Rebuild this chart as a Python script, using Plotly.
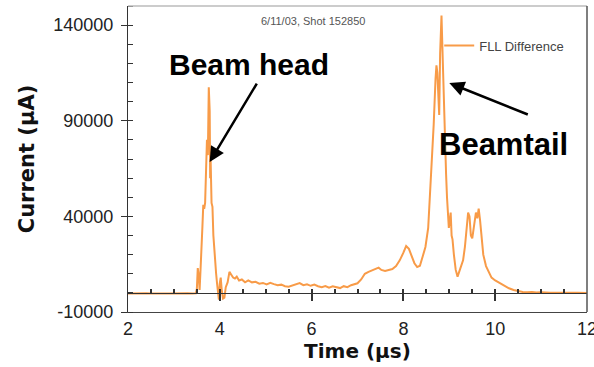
import plotly.graph_objects as go

# FLL difference current trace, shot 152850
time_us = [
    2.00, 2.10, 2.20, 2.30, 2.40, 2.50, 2.60, 2.70, 2.80, 2.90,
    3.00, 3.10, 3.20, 3.30, 3.40, 3.48, 3.50, 3.52, 3.54, 3.56,
    3.58, 3.60, 3.62, 3.64, 3.66, 3.68, 3.70, 3.72, 3.74, 3.76,
    3.78, 3.79, 3.80, 3.82, 3.84, 3.86, 3.88, 3.90, 3.92, 3.94,
    3.96, 3.98, 4.00, 4.02, 4.04, 4.07, 4.10, 4.13, 4.17, 4.21,
    4.25, 4.29, 4.33, 4.37, 4.42, 4.48, 4.55, 4.62, 4.70, 4.78,
    4.86, 4.94, 5.02, 5.10, 5.18, 5.26, 5.34, 5.42, 5.50, 5.58,
    5.66, 5.74, 5.82, 5.90, 5.98, 6.06, 6.14, 6.22, 6.30, 6.38,
    6.46, 6.54, 6.62, 6.70, 6.78, 6.86, 6.94, 7.00, 7.08, 7.16,
    7.24, 7.32, 7.40, 7.46, 7.52, 7.60, 7.68, 7.76, 7.84, 7.92,
    8.00, 8.06, 8.12, 8.18, 8.24, 8.30, 8.36, 8.42, 8.48, 8.54,
    8.58, 8.62, 8.66, 8.70, 8.72, 8.74, 8.76, 8.78, 8.80, 8.83,
    8.85, 8.87, 8.89, 8.91, 8.93, 8.95, 8.97, 8.99, 9.01, 9.03,
    9.05, 9.07, 9.10, 9.14, 9.18, 9.22, 9.26, 9.30, 9.34, 9.38,
    9.41, 9.44, 9.47, 9.50, 9.54, 9.58, 9.61, 9.64, 9.67, 9.70,
    9.74, 9.80, 9.86, 9.92, 10.00, 10.10, 10.20, 10.30, 10.40, 10.50,
    10.60, 10.70, 10.80, 10.90, 11.00, 11.20, 11.40, 11.60, 11.80, 12.00,
]
current_ua = [
    -300, -200, -400, -300, -200, -300, -400, -200, -300, -300,
    -200, -400, -300, -200, -300, -200, 2000, 13000, 9000, 1500,
    12000, 20000, 34000, 46000, 44000, 47000, 60000, 80000, 72000, 107500,
    95000, 60000, 70000, 47000, 45000, 30000, 22000, 17000, 10000, 5000,
    -1000, -3500, 5000, 8000, 2000, -3000, -2500, 3000, 5500, 11000,
    9500, 8000, 7500, 8500, 6500, 7000, 5500, 6500, 5500, 5800,
    4800, 5200, 4400, 5300, 4600, 4000, 4300, 3500, 3200, 3800,
    4300, 5100, 4000, 4500, 3700, 4300, 3500, 3000, 3600, 2700,
    3400, 2800, 2500, 3500, 3000, 4000, 4600, 5000, 7000, 10000,
    11000, 11800, 12800, 13200, 12000, 11500, 12000, 12500, 14000, 17000,
    21000, 24500, 23000, 19000, 15500, 13500, 14200, 19000, 24000, 34000,
    50000, 70000, 88000, 112000, 119000, 115000, 98000, 93000, 125000, 145000,
    128000, 110000, 85000, 70000, 62000, 50000, 40000, 34000, 38000, 42000,
    30000, 28000, 20000, 12000, 8500, 11000, 14000, 17000, 24000, 35000,
    42000, 40000, 30000, 28500, 35000, 42000, 39000, 44000, 38000, 28000,
    20000, 14000, 10500, 8000, 6500, 5000, 3500, 2400, 1500, 900,
    500, 300, 500, 200, 300, 100, 200, 0, 100, 0,
]

x_ticks = [2, 4, 6, 8, 10, 12]
y_ticks = [-10000, 40000, 90000, 140000]
y_tick_text = ["-10000", "40000", "90000", "140000"]
x_range = [2, 12]
y_range = [-10000, 150000]

# tick marks carried by the zero-current axis
zero_major = [4, 6, 8, 10]
zero_minor = [2.5, 3, 3.5, 4.5, 5, 5.5, 6.5, 7, 7.5, 8.5, 9, 9.5, 10.5, 11, 11.5]

series_name = "FLL Difference"
plot_title = "6/11/03, Shot 152850"

ORANGE = "#F89B48"
AXIS = "#333333"
SANS = "Liberation Sans, Arial, sans-serif"
TICKFONT = dict(family=SANS, size=18, color="#222222")
TITLEFONT = dict(family="DejaVu Sans, Verdana, sans-serif", size=20, color="#111111")

fig = go.Figure()
fig.add_trace(go.Scatter(
    x=time_us, y=current_ua, mode="lines", name=series_name,
    line=dict(color=ORANGE, width=2),
    showlegend=True,
))

# invisible carriers so the overlay axes get drawn
fig.add_trace(go.Scatter(x=x_range, y=[0, 0], xaxis="x2", yaxis="y", mode="lines",
                         line=dict(width=0), showlegend=False, hoverinfo="skip"))
fig.add_trace(go.Scatter(x=x_range, y=[0, 0], xaxis="x3", yaxis="y", mode="lines",
                         line=dict(width=0), showlegend=False, hoverinfo="skip"))
fig.add_trace(go.Scatter(x=x_range, y=[0, 0], xaxis="x", yaxis="y2", mode="lines",
                         line=dict(width=0), showlegend=False, hoverinfo="skip"))

# position of the zero-current axis within the plot area
zero_pos = (0 - y_range[0]) / (y_range[1] - y_range[0])

fig.update_layout(
    width=594, height=367,
    margin=dict(l=128, r=7, t=6, b=55),
    paper_bgcolor="white", plot_bgcolor="white",
    showlegend=True,
    legend=dict(
        x=0.678, y=0.92, xanchor="left", yanchor="top",
        bgcolor="rgba(0,0,0,0)",
        font=dict(family=SANS, size=13, color="#444444"),
    ),
    xaxis=dict(
        range=x_range, tickvals=x_ticks, ticks="", showgrid=False, zeroline=False,
        showline=True, linecolor="#444444", linewidth=1,
        tickfont=TICKFONT, ticklabeloverflow="allow", automargin=False,
        title=dict(text="<b>Time (µs)</b>", font=TITLEFONT, standoff=1),
    ),
    yaxis=dict(
        range=y_range, tickvals=y_ticks, ticktext=y_tick_text,
        ticks="outside", ticklen=6, tickcolor=AXIS, tickwidth=1,
        minor=dict(ticks="inside", ticklen=5, tickcolor=AXIS, dtick=10000, tick0=-10000),
        showgrid=False, zeroline=False,
        showline=True, linecolor=AXIS, linewidth=1,
        tickfont=TICKFONT, ticklabelstandoff=4, automargin=False,
        title=dict(text="<b>Current (µA)</b>", font=dict(TITLEFONT, size=21), standoff=12),
    ),
    # inside half of the major y ticks
    yaxis2=dict(
        overlaying="y", side="left", range=y_range, tickvals=y_ticks,
        ticks="inside", ticklen=5, tickcolor=AXIS, showticklabels=False,
        showline=False, showgrid=False, zeroline=False, automargin=False,
    ),
    # zero-current reference axis with its own tick marks
    xaxis2=dict(
        overlaying="x", anchor="free", position=zero_pos, side="bottom",
        range=x_range, tickvals=zero_major,
        ticks="outside", ticklen=7, tickcolor=AXIS, tickwidth=1.5,
        minor=dict(ticks="inside", ticklen=4, tickcolor=AXIS, tickvals=zero_minor),
        showticklabels=False, showline=True, linecolor=AXIS, linewidth=1,
        showgrid=False, zeroline=False, automargin=False,
    ),
    xaxis3=dict(
        overlaying="x", anchor="free", position=zero_pos, side="bottom",
        range=x_range, tickvals=zero_major,
        ticks="inside", ticklen=4, tickcolor=AXIS, tickwidth=1.5,
        showticklabels=False, showline=False, showgrid=False, zeroline=False,
        automargin=False,
    ),
)

# frame: light top edge, darker right edge
fig.add_shape(type="line", xref="paper", yref="paper", x0=0, x1=1, y0=1, y1=1,
              line=dict(color="#BBBBBB", width=1.5))
fig.add_shape(type="line", xref="paper", yref="paper", x0=1, x1=1, y0=0, y1=1,
              line=dict(color="#555555", width=1.5))

fig.add_annotation(
    text=plot_title, xref="paper", yref="paper", x=0.403, y=0.951,
    xanchor="center", yanchor="middle",
    showarrow=False, font=dict(family=SANS, size=11, color="#555555"),
)

LABELFONT = dict(family=SANS, size=30, color="black")
fig.add_annotation(text="<b>Beam head</b>", xref="paper", yref="paper",
                   x=0.2636, y=0.81, xanchor="center", yanchor="middle",
                   showarrow=False, font=LABELFONT)
fig.add_annotation(text="<b>Beamtail</b>", xref="paper", yref="paper",
                   x=0.818, y=0.546, xanchor="center", yanchor="middle",
                   showarrow=False, font=dict(LABELFONT, size=31))

# arrows pointing at the two peaks
fig.add_annotation(x=3.78, y=68400, xref="x", yref="y", ax=48, ay=-80, text="",
                   showarrow=True, arrowhead=2, arrowsize=1.2, arrowwidth=2.5, arrowcolor="black")
fig.add_annotation(x=9.0, y=109700, xref="x", yref="y", ax=80, ay=32, text="",
                   showarrow=True, arrowhead=2, arrowsize=1.2, arrowwidth=2.5, arrowcolor="black")

fig.write_html("out.html")
